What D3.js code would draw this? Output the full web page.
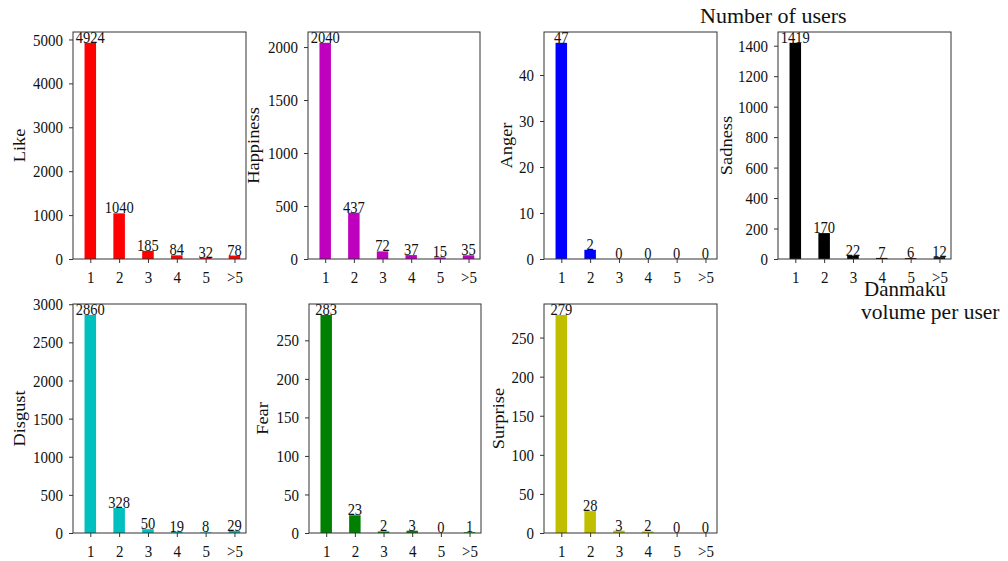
<!DOCTYPE html>
<html>
<head>
<meta charset="utf-8">
<script src="https://cdn.jsdelivr.net/npm/d3@7"></script>
<style>
  body { margin: 0; background: #fff; }
  text { font-family: "Liberation Serif", "Times New Roman", serif; fill: #111; }
</style>
</head>
<body>
<div id="chart"></div>
<script>
// categories (danmaku count per user)
var categories = ["1", "2", "3", "4", "5", ">5"];

// number of users per emotion
var like = [4924, 1040, 185, 84, 32, 78];
var happiness = [2040, 437, 72, 37, 15, 35];
var anger = [47, 2, 0, 0, 0, 0];
var sadness = [1419, 170, 22, 7, 6, 12];
var disgust = [2860, 328, 50, 19, 8, 29];
var fear = [283, 23, 2, 3, 0, 1];
var surprise = [279, 28, 3, 2, 0, 0];

var panelNames = ["Like", "Happiness", "Anger", "Sadness", "Disgust", "Fear", "Surprise"];
var panelValues = [like, happiness, anger, sadness, disgust, fear, surprise];
var panelTicks = [
    [0, 1000, 2000, 3000, 4000, 5000],
    [0, 500, 1000, 1500, 2000],
    [0, 10, 20, 30, 40],
    [0, 200, 400, 600, 800, 1000, 1200, 1400],
    [0, 500, 1000, 1500, 2000, 2500, 3000],
    [0, 50, 100, 150, 200, 250],
    [0, 50, 100, 150, 200, 250]
];
var panelColors = ["#ff0000", "#bf00bf", "#0000ff", "#000000", "#00bfbf", "#008000", "#bfbf00"];

var svgWidth = 1008;
var svgHeight = 561;
var stretch = 1.15; // the original picture is a bit squeezed sideways

var svg = d3.select("#chart")
    .append("svg")
    .attr("width", svgWidth)
    .attr("height", svgHeight);

// frame positions of each subplot (left, top, right, bottom) and y-label x
var frames = [
    { l: 73, t: 32, r: 246, b: 259, lx: 19 },
    { l: 308, t: 32, r: 480, b: 259, lx: 253 },
    { l: 544, t: 32, r: 717, b: 259, lx: 506 },
    { l: 778, t: 32, r: 951, b: 259, lx: 726 },
    { l: 73, t: 304, r: 246, b: 533, lx: 19 },
    { l: 309, t: 304, r: 481, b: 533, lx: 262 },
    { l: 544, t: 304, r: 717, b: 533, lx: 498 }
];

panelNames.forEach(function (name, i) {
    var f = frames[i];
    var values = panelValues[i];
    var w = f.r - f.l;
    var h = f.b - f.t;

    var g = svg.append("g")
        .attr("transform", `translate(${f.l}, ${f.t})`);

    var xScale = d3.scaleLinear()
        .domain([0.4, 6.4])
        .range([0, w]);

    var yScale = d3.scaleLinear()
        .domain([0, d3.max(values) * 1.05])
        .range([h, 0]);

    var barW = xScale(1.4) - xScale(1);

    g.selectAll("rect.bar")
        .data(values)
        .enter()
        .append("rect")
        .attr("class", "bar")
        .attr("x", (d, j) => xScale(j + 1) - barW / 2)
        .attr("y", d => yScale(d))
        .attr("width", barW)
        .attr("height", d => h - yScale(d))
        .attr("fill", panelColors[i]);

    // value labels
    g.selectAll("text.val")
        .data(values)
        .enter()
        .append("text")
        .attr("class", "val")
        .attr("transform", (d, j) => `translate(${xScale(j + 1)}, ${yScale(d)}) scale(1, ${stretch})`)
        .attr("text-anchor", "middle")
        .style("font-size", "14.5px")
        .text(d => d);

    // axes
    var yAxis = d3.axisLeft(yScale)
        .tickValues(panelTicks[i])
        .tickSize(4)
        .tickPadding(6)
        .tickFormat(d3.format("d"));

    var xAxis = d3.axisBottom(xScale)
        .tickValues([1, 2, 3, 4, 5, 6])
        .tickSize(4)
        .tickPadding(6.5)
        .tickFormat((d, j) => categories[j]);

    var ya = g.append("g").call(yAxis);
    var xa = g.append("g").attr("transform", `translate(0, ${h})`).call(xAxis);

    [ya, xa].forEach(function (a) {
        a.attr("font-family", "Liberation Serif, serif");
        a.select(".domain").remove();
        a.selectAll("line").attr("stroke", "#333");
        a.selectAll("text")
            .attr("transform", `scale(1, ${stretch})`)
            .style("font-size", "15px")
            .attr("fill", "#111");
    });

    // frame
    g.append("rect")
        .attr("x", 0)
        .attr("y", 0)
        .attr("width", w)
        .attr("height", h)
        .attr("fill", "none")
        .attr("stroke", "#333")
        .attr("stroke-width", 1);

    // y label
    svg.append("text")
        .attr("transform", `translate(${f.lx}, ${f.t + h / 2}) rotate(-90) scale(${stretch}, 1)`)
        .attr("text-anchor", "middle")
        .attr("dy", "0.35em")
        .style("font-size", "16px")
        .text(name);
});

// figure annotations
svg.append("text")
    .attr("x", 700)
    .attr("y", 23)
    .style("font-size", "22px")
    .text("Number of users");

svg.append("text")
    .attr("x", 864)
    .attr("y", 296)
    .style("font-size", "21px")
    .text("Danmaku");

svg.append("text")
    .attr("x", 861)
    .attr("y", 319)
    .style("font-size", "21.5px")
    .text("volume per user");
</script>
</body>
</html>
